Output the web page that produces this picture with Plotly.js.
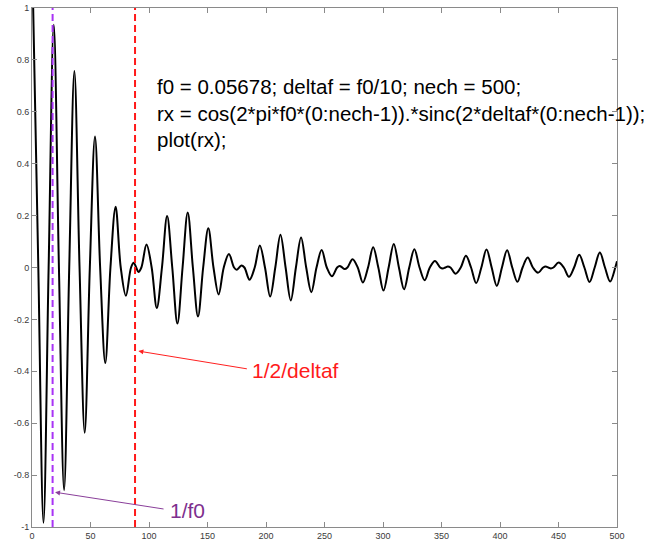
<!DOCTYPE html>
<html>
<head>
<meta charset="utf-8">
<script src="https://cdn.plot.ly/plotly-3.0.1.min.js"></script>
<style>html,body{margin:0;padding:0;background:#fff;}#chart{width:649px;height:545px;}</style>
</head>
<body>
<div id="chart"></div>
<script>
// Sample index (MATLAB 1-based) of extrema, zero crossings and small bumps
const sampleIndex = [
  1.0, 5.4, 9.81, 14.21, 18.61, 23.02, 27.42, 31.82, 36.22, 40.63, 45.03, 49.43, 53.84, 58.24,
  62.64, 67.05, 71.45, 75.85, 80.25, 84.66, 87.0, 89.06, 91.0, 93.47, 97.87, 102.27, 106.67,
  111.08, 115.48, 119.88, 124.29, 128.69, 133.09, 137.5, 141.9, 146.3, 150.7, 155.11, 159.51,
  163.91, 168.31, 172.72, 175.0, 177.12, 179.0, 181.53, 185.93, 190.33, 194.73, 199.14, 203.54,
  207.94, 212.34, 216.75, 221.15, 225.56, 229.96, 234.36, 238.76, 243.17, 247.57, 251.97,
  256.37, 260.78, 263.0, 265.18, 267.2, 269.59, 273.99, 278.39, 282.79, 287.2, 291.6, 296.0,
  300.4, 304.81, 309.21, 313.61, 318.02, 322.42, 326.82, 331.22, 335.63, 340.03, 344.43,
  348.84, 351.0, 353.24, 355.4, 357.64, 362.05, 366.45, 370.85, 375.26, 379.66, 384.06,
  388.46, 392.87, 397.27, 401.67, 406.08, 410.48, 414.88, 419.29, 423.69, 428.09, 432.49,
  436.9, 439.0, 441.3, 443.5, 445.7, 450.11, 454.51, 458.91, 463.32, 467.72, 472.12, 476.52,
  480.93, 485.33, 489.73, 494.14, 498.54, 500.0
];
const rxValue = [
  1.0, 0, -0.984, 0, 0.935, 0, -0.858, 0, 0.757, 0, -0.637, 0, 0.505, 0,
  -0.368, 0, 0.234, 0, -0.109, 0, 0.018, 0, -0.017, 0, 0.089, 0, -0.156,
  0, 0.198, 0, -0.216, 0, 0.212, 0, -0.189, 0, 0.151, 0, -0.104,
  0, 0.052, 0, -0.009, 0, 0.008, 0, -0.047, 0, 0.085, 0, -0.112,
  0, 0.126, 0, -0.127, 0, 0.116, 0, -0.095, 0, 0.067, 0,
  -0.034, 0, 0.006, 0, -0.006, 0, 0.032, 0, -0.058, 0, 0.078, 0,
  -0.089, 0, 0.091, 0, -0.084, 0, 0.070, 0, -0.049, 0, 0.025,
  0, -0.004, 0, 0.004, 0, -0.024, 0, 0.045, 0, -0.060, 0,
  0.069, 0, -0.071, 0, 0.066, 0, -0.055, 0, 0.039, 0, -0.020,
  0, 0.0036, 0, -0.0036, 0, 0.019, 0, -0.036, 0, 0.049, 0, -0.056,
  0, 0.058, 0, -0.054, 0, 0.024
];
// Marker positions: 1/f0 and 1/2/deltaf
const periodMark = 17.61;
const halfInvDeltaf = 88.06;
const xTicks = [0, 50, 100, 150, 200, 250, 300, 350, 400, 450, 500];
const yTicks = [-1, -0.8, -0.6, -0.4, -0.2, 0, 0.2, 0.4, 0.6, 0.8, 1];
const yTickText = ['-1', '-0.8', '-0.6', '-0.4', '-0.2', '0', '0.2', '0.4', '0.6', '0.8', '1'];
const codeLines = [
  'f0 = 0.05678; deltaf = f0/10; nech = 500;',
  'rx = cos(2*pi*f0*(0:nech-1)).*sinc(2*deltaf*(0:nech-1));',
  'plot(rx);'
];

const FONT = '"Liberation Sans", Arial, Helvetica, sans-serif';

const traces = [
  {
    x: sampleIndex, y: rxValue, type: 'scatter', mode: 'lines',
    line: {color: '#000000', width: 2, shape: 'spline', smoothing: 1},
    hoverinfo: 'skip'
  },
  {
    x: [periodMark, periodMark], y: [-1, 1], type: 'scatter', mode: 'lines',
    line: {color: '#a833f5', width: 2, dash: '7px,4px'}, hoverinfo: 'skip'
  },
  {
    x: [halfInvDeltaf, halfInvDeltaf], y: [-1, 1], type: 'scatter', mode: 'lines',
    line: {color: '#ff1a1a', width: 2, dash: '7px,4px'}, hoverinfo: 'skip'
  }
];

const axisCommon = {
  showgrid: false, zeroline: false, showline: true, mirror: 'ticks',
  linecolor: '#8a8a8a', linewidth: 1, ticks: 'inside', ticklen: 5, tickwidth: 1,
  tickcolor: '#8a8a8a', tickfont: {family: FONT, size: 9, color: '#3a3a3a'}
};

const layout = {
  width: 649, height: 545,
  margin: {l: 32, r: 32, t: 8, b: 18, pad: 0},
  paper_bgcolor: '#ffffff', plot_bgcolor: '#ffffff',
  showlegend: false,
  xaxis: Object.assign({}, axisCommon, {range: [0, 500], tickvals: xTicks, ticktext: xTicks.map(String)}),
  yaxis: Object.assign({}, axisCommon, {range: [-1, 1], tickvals: yTicks, ticktext: yTickText}),
  annotations: [
    {
      x: 105, y: 0.595, xref: 'x', yref: 'y', xanchor: 'left', yanchor: 'middle', align: 'left',
      text: codeLines.join('<br>'), showarrow: false,
      font: {family: FONT, size: 20.5, color: '#000000'}
    },
    {
      x: 90.9, y: -0.322, xref: 'x', yref: 'y', ax: 110, ay: 18, showarrow: true,
      arrowhead: 2, arrowsize: 1, arrowwidth: 1, arrowcolor: '#ff2020', text: '', standoff: 0
    },
    {
      x: 186.3, y: -0.396, xref: 'x', yref: 'y', xanchor: 'left', yanchor: 'middle', showarrow: false,
      text: '1/2/deltaf', font: {family: FONT, size: 21, color: '#ff1a1a'}
    },
    {
      x: 19.7, y: -0.866, xref: 'x', yref: 'y', ax: 110, ay: 17, showarrow: true,
      arrowhead: 2, arrowsize: 1, arrowwidth: 1, arrowcolor: '#8a3f9a', text: '', standoff: 0
    },
    {
      x: 116.2, y: -0.936, xref: 'x', yref: 'y', xanchor: 'left', yanchor: 'middle', showarrow: false,
      text: '1/f0', font: {family: FONT, size: 21, color: '#7e2f8e'}
    }
  ]
};

Plotly.newPlot('chart', traces, layout, {displayModeBar: false, staticPlot: true});
</script>
</body>
</html>
